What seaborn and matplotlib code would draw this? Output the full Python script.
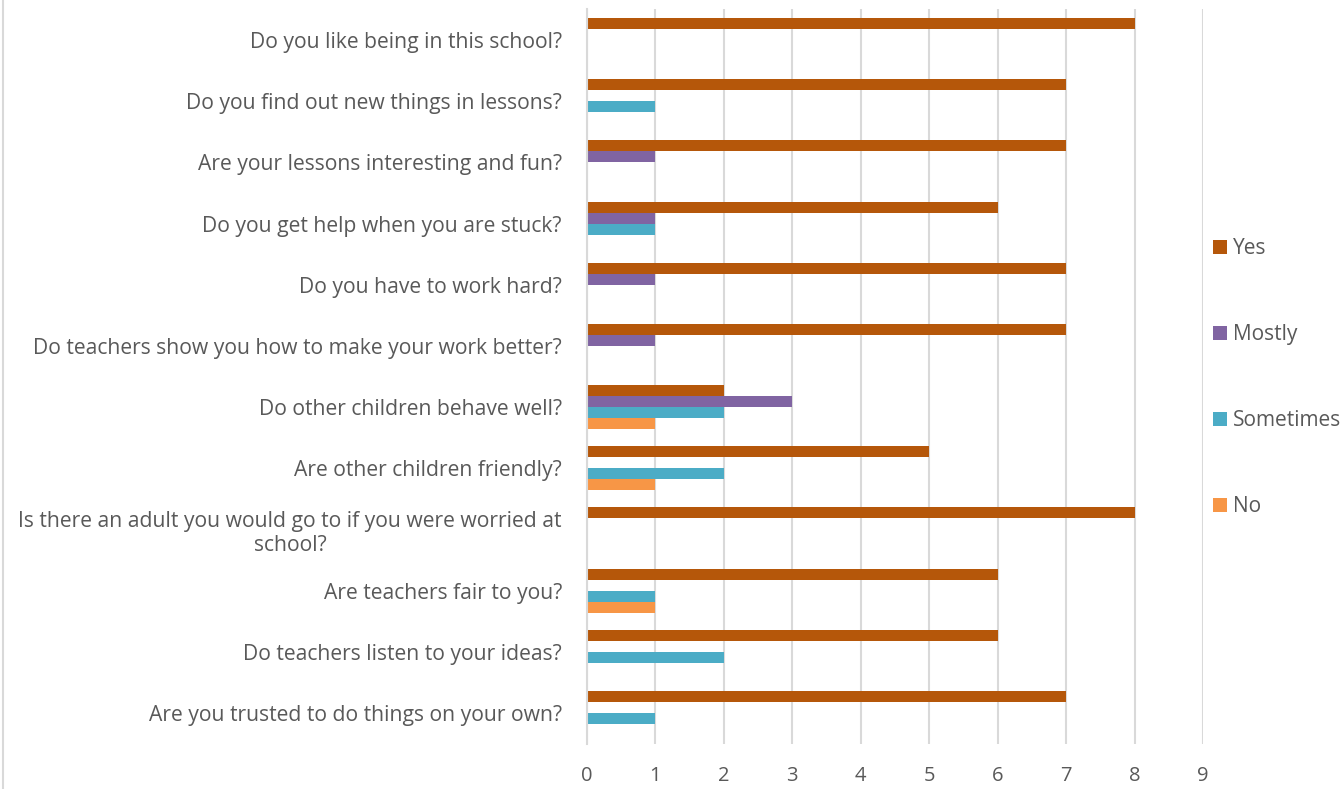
import matplotlib
matplotlib.use("Agg")
import matplotlib.pyplot as plt
from matplotlib.lines import Line2D
from matplotlib.patches import Patch
import seaborn as sns
import pandas as pd

questions = [
    "Do you like being in this school?",
    "Do you find out new things in lessons?",
    "Are your lessons interesting and fun?",
    "Do you get help when you are stuck?",
    "Do you have to work hard?",
    "Do teachers show you how to make your work better?",
    "Do other children behave well?",
    "Are other children friendly?",
    "Is there an adult you would go to if you were worried at\nschool?",
    "Are teachers fair to you?",
    "Do teachers listen to your ideas?",
    "Are you trusted to do things on your own?",
]
series_names = ["Yes", "Mostly", "Sometimes", "No"]
yes = [8, 7, 7, 6, 7, 7, 2, 5, 8, 6, 6, 7]
mostly = [0, 0, 1, 1, 1, 1, 3, 0, 0, 0, 0, 0]
sometimes = [0, 1, 0, 1, 0, 0, 2, 2, 0, 1, 2, 1]
no = [0, 0, 0, 0, 0, 0, 1, 1, 0, 1, 0, 0]
x_ticks = [0, 1, 2, 3, 4, 5, 6, 7, 8, 9]

colors = {"Yes": "#B5570A", "Mostly": "#8064A2", "Sometimes": "#4BACC6", "No": "#F79646"}

rows = []
for name, vals in zip(series_names, [yes, mostly, sometimes, no]):
    for q, v in zip(questions, vals):
        rows.append({"Question": q, "Response": name, "Count": v})
df = pd.DataFrame(rows)

sns.set_style("white")
plt.rcParams["font.family"] = ["Open Sans", "DejaVu Sans"]
text_color = "#595959"
grid_color = "#D9D9D9"

fig = plt.figure(figsize=(13.42, 7.89), dpi=100)
ax = fig.add_axes([587 / 1342, 1 - 743.6 / 789, (1203 - 587) / 1342, (743.6 - 9.4) / 789])

sns.barplot(data=df, y="Question", x="Count", hue="Response", order=questions,
            hue_order=series_names, palette=colors, orient="h", width=0.72,
            ax=ax, legend=False, linewidth=0, saturation=1)

ax.set_xlim(0, 9)
ax.set_xticks(x_ticks)
ax.set_xticklabels([str(t) for t in x_ticks])
ax.set_xlabel("")
ax.set_ylabel("")
ax.set_axisbelow(True)
ax.grid(axis="x", color=grid_color, linewidth=1.5)
for s in ["top", "right", "bottom"]:
    ax.spines[s].set_visible(False)
ax.spines["left"].set_color(grid_color)
ax.spines["left"].set_linewidth(1.5)
ax.tick_params(axis="x", length=0, pad=16, labelsize=14.5, labelcolor=text_color)
ax.tick_params(axis="y", length=0, pad=18, labelsize=15.2, labelcolor=text_color)
for lbl in ax.get_yticklabels():
    lbl.set_multialignment("center")

handles = [Patch(facecolor=colors[n], edgecolor="none") for n in series_names]
fig.legend(handles, series_names, loc="upper left", bbox_to_anchor=(1205 / 1342, 1 - 230 / 789),
           frameon=False, fontsize=15, labelcolor=text_color, labelspacing=3.12,
           handlelength=0.65, handleheight=0.65, handletextpad=0.3, borderaxespad=0)

fig.add_artist(Line2D([3 / 1342, 3 / 1342], [0, 1], color=grid_color, linewidth=1.5))

fig.savefig("out.png", dpi=100)
